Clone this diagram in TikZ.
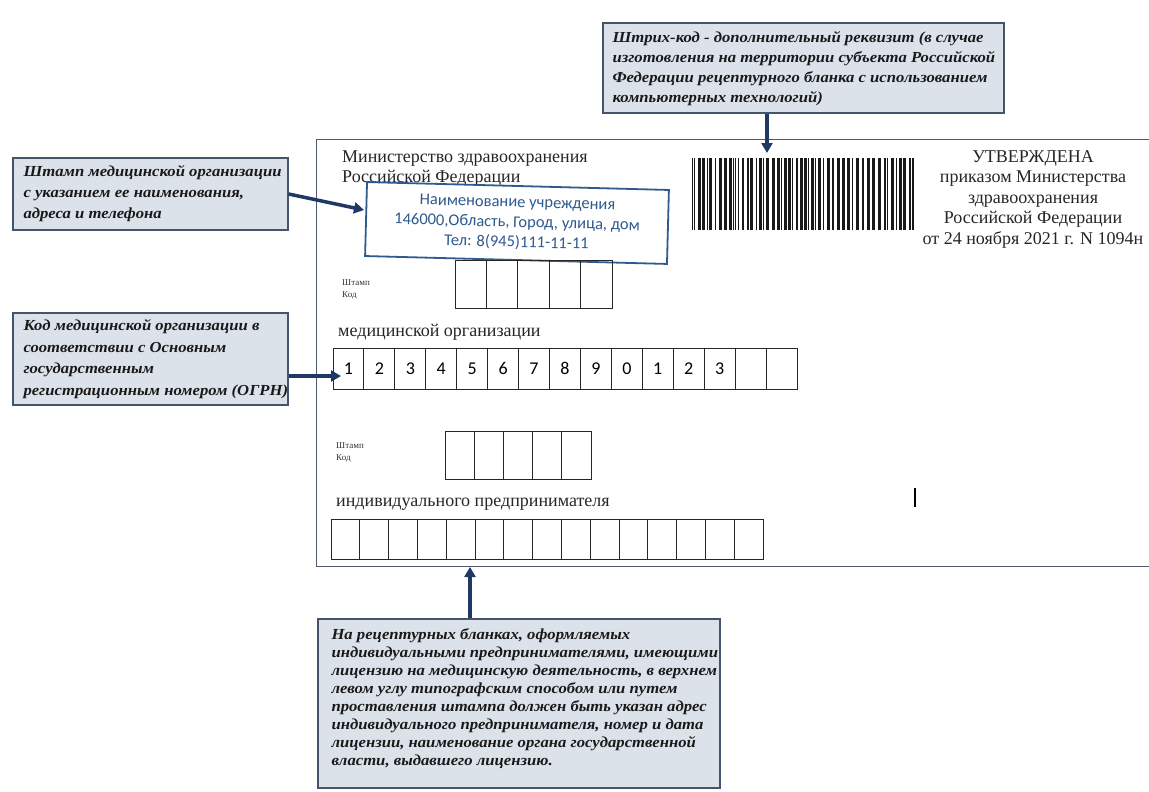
\documentclass[tikz,border=0pt]{standalone}
\usepackage{fontspec}
\setmainfont{Liberation Serif}
\newfontfamily\callfont[FakeStretch=1.09]{Liberation Serif}
\newfontfamily\stampfont{Carlito}
\usetikzlibrary{arrows.meta,calc}
\definecolor{callfill}{HTML}{DCE2EA}
\definecolor{callline}{HTML}{44546A}
\definecolor{arrowc}{HTML}{1F3864}
\definecolor{stampc}{HTML}{2F5A8E}
\definecolor{framec}{HTML}{505A68}
\begin{document}
\begin{tikzpicture}[x=1pt,y=-1pt,
  callbox/.style={draw=callline, line width=1.4pt, fill=callfill, inner sep=0pt},
  calltext/.style={anchor=west, align=left, inner sep=0pt, text=black!90,
    font=\callfont\bfseries\itshape\fontsize{15.3}{#1}\selectfont},
  calltext/.default=21,
  arr/.style={draw=arrowc, line width=3.5pt, -{Triangle[length=10pt,width=11pt]}},
  cell/.style={draw=black!85, line width=0.9pt, inner sep=0pt},
  formtxt/.style={inner sep=0pt, font=\fontsize{18}{20.5}\selectfont, text=black!85},
  smalltxt/.style={inner sep=0pt, anchor=north west, align=left, font=\fontsize{9}{12}\selectfont, text=black!80}
]
\useasboundingbox (0,0) rectangle (1149,792);

% form frame
\draw[framec, line width=1pt] (1149,139) -- (316,139) -- (316,566) -- (1149,566);

% form texts
\node[formtxt, anchor=base west] (min1) at (342,162) {Министерство здравоохранения};
\node[formtxt, anchor=base west] (min2) at (342,182) {Российской Федерации};
\node[formtxt, anchor=north, align=center] (utv) at (1033,150)
  {УТВЕРЖДЕНА\\приказом Министерства\\здравоохранения\\Российской Федерации\\от 24 ноября 2021 г. N 1094н};

% barcode
\pgfmathsetseed{12}
\xdef\bx{692}
\foreach \i in {1,...,90}{%
  \pgfmathsetmacro\w{random(1,3)}%
  \pgfmathsetmacro\g{random(1,3)}%
  \pgfmathsetmacro\ok{(\bx+\w<=915)?1:0}%
  \ifdim\ok pt>0.5pt \fill[black!90] (\bx,158) rectangle ({\bx+\w},230);\fi
  \pgfmathsetmacro\nx{\bx+\w+\g}%
  \xdef\bx{\nx}%
}
\coordinate (bc) at (767,153);

% stamp
\node[draw=stampc, line width=1.8pt, fill=white, rotate=-1.5, minimum width=302, minimum height=74,
  align=center, text=stampc, inner sep=0pt, font=\stampfont\fontsize{16.5}{20}\selectfont] (stamp) at (517,223)
  {Наименование учреждения\\146000,Область, Город, улица, дом\\Тел: 8(945)111-11-11};

% upper stamp code
\node[smalltxt] (st1) at (342,279) {Штамп\\Код};
\foreach \i in {0,...,4}
  \node[cell, minimum width=31.4, minimum height=48] (a\i) at ({455+31.4*(\i+0.5)},284) {};

\node[formtxt, anchor=base west] (med) at (338,336) {медицинской организации};

% number row
\foreach \d [count=\i from 0] in {1,2,3,4,5,6,7,8,9,0,1,2,3,{},{}}
  \node[cell, minimum width=30.93, minimum height=41, font=\stampfont\fontsize{18}{18}\selectfont]
    (n\i) at ({333+30.93*(\i+0.5)},368.5) {\d};

% lower stamp code
\node[smalltxt] (st2) at (336,442) {Штамп\\Код};
\foreach \i in {0,...,4}
  \node[cell, minimum width=29.2, minimum height=48] (b\i) at ({445+29.2*(\i+0.5)},455) {};

\node[formtxt, anchor=base west] (ip) at (336,506) {индивидуального предпринимателя};

\foreach \i in {0,...,14}
  \node[cell, minimum width=28.8, minimum height=40] (r\i) at ({331+28.8*(\i+0.5)},539) {};

\draw[black, line width=1.2pt] (915,488) -- (915,507);

% callouts
\node[callbox, minimum width=401, minimum height=90] (top) at (803.5,68) {};
\node[calltext=20] (toptxt) at ($(top.west)+(10,1)$)
  {Штрих-код - дополнительный реквизит (в случае\\изготовления на территории субъекта Российской\\Федерации рецептурного бланка с использованием\\компьютерных технологий)};

\node[callbox, minimum width=275, minimum height=72] (c1) at (150.5,194) {};
\node[calltext] (c1txt) at ($(c1.west)+(11,0)$)
  {Штамп медицинской организации\\с указанием ее наименования,\\адреса и телефона};

\node[callbox, minimum width=275, minimum height=92] (c2) at (150.5,359) {};
\node[calltext=21.7] (c2txt) at ($(c2.west)+(11,0)$)
  {Код медицинской организации в\\соответствии с Основным\\государственным\\регистрационным номером (ОГРН)};

\node[callbox, minimum width=402, minimum height=169] (bot) at (519,703.5) {};
\node[calltext=17.9] (bottxt) at ($(bot.west)+(14,-5)$)
  {На рецептурных бланках, оформляемых\\индивидуальными предпринимателями, имеющими\\лицензию на медицинскую деятельность, в верхнем\\левом углу типографским способом или путем\\проставления штампа должен быть указан адрес\\индивидуального предпринимателя, номер и дата\\лицензии, наименование органа государственной\\власти, выдавшего лицензию.};

% arrows
\coordinate (t1) at (364,210);
\coordinate (t2) at (341,376);
\coordinate (t4) at (470,567);
\draw[arr] (top.south -| bc) -- (bc);
\draw[arr] (c1.east) -- (t1);
\draw[arr] (c2.east |- t2) -- (t2);
\draw[arr] (bot.north -| t4) -- (t4);
\end{tikzpicture}
\end{document}
